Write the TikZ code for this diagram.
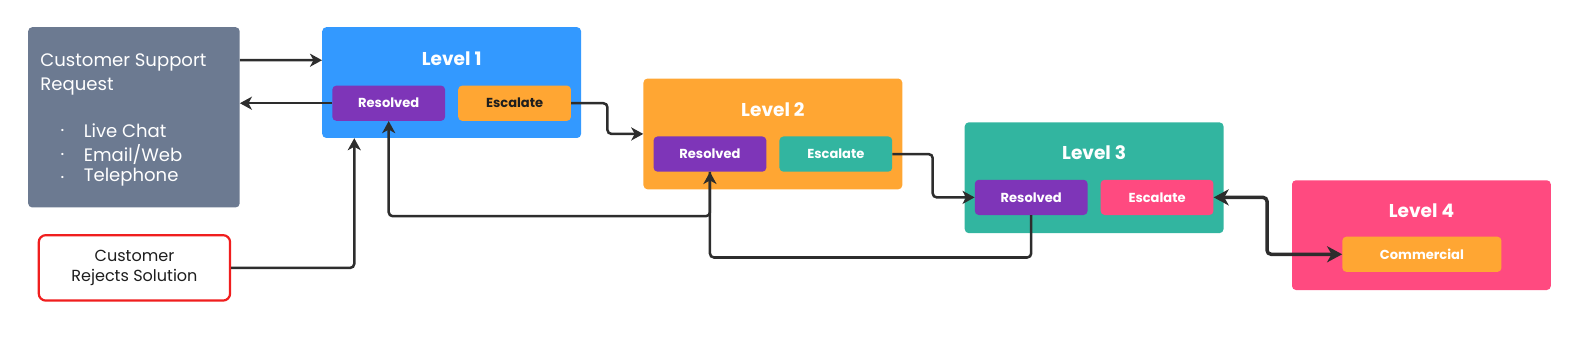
\documentclass[tikz,border=0pt]{standalone}
\usepackage{fontspec}
\setmainfont{Poppins}
\usetikzlibrary{arrows.meta,calc}
\definecolor{cgray}{RGB}{108,122,145}
\definecolor{cblue}{RGB}{51,153,255}
\definecolor{corange}{RGB}{255,166,51}
\definecolor{cpurple}{RGB}{126,53,184}
\definecolor{cteal}{RGB}{50,181,160}
\definecolor{cpink}{RGB}{255,74,128}
\definecolor{cred}{RGB}{240,30,30}
\definecolor{cline}{RGB}{45,45,45}
\definecolor{cdark}{RGB}{30,30,30}
\tikzset{
  levelbox/.style={rectangle,rounded corners=4bp,minimum width=257bp,minimum height=110bp,inner sep=0pt},
  btn/.style={rectangle,rounded corners=4bp,minimum width=112bp,minimum height=35bp,inner sep=0pt,font=\fontsize{13}{15}\selectfont\bfseries,text=white},
  ttl/.style={font=\fontsize{18.5}{22}\selectfont\bfseries,text=white,inner sep=0pt},
  gtxt/.style={font=\fontsize{18}{23.5}\selectfont,text=white,inner sep=0pt,anchor=west,align=left},
  conn/.style={draw=cline,line width=2.5bp,rounded corners=4bp,-{Stealth[length=12bp,width=13bp,inset=3.5bp]}},
}
\begin{document}
\begin{tikzpicture}[x=1bp,y=-1bp]
\useasboundingbox (0,0) rectangle (1568,342.6);
% source box
\node[rectangle,rounded corners=4bp,fill=cgray,minimum width=210bp,minimum height=179bp,inner sep=0pt] (gray) at (133,116.5) {};
\node[gtxt] (gt) at (40,74) {Customer Support\\Request};
\node[gtxt,font=\fontsize{9}{12}\selectfont] (b1) at (60,131) {•};
\node[gtxt,font=\fontsize{9}{12}\selectfont] (b2) at (60,154) {•};
\node[gtxt,font=\fontsize{9}{12}\selectfont] (b3) at (60,177) {•};
\node[gtxt] (i1) at (83,130) {Live Chat};
\node[gtxt] (i2) at (83,153) {Email/Web};
\node[gtxt] (i3) at (83,176) {Telephone};
% reject box
\node[rectangle,rounded corners=7bp,draw=cred,line width=2.2bp,fill=white,minimum width=190bp,minimum height=65bp,align=center,font=\fontsize{16}{19.5}\selectfont,text=cdark,inner sep=0pt] (red) at (133.5,266) {Customer\\Rejects Solution};
% Level 1
\node[levelbox,fill=cblue] (l1) at (448.5,82) {};
\node[ttl] (l1t) at (448.5,58) {Level 1};
\node[btn,fill=cpurple] (l1res) at (386,102.5) {Resolved};
\node[btn,fill=corange,text=cdark] (l1esc) at (511,102.5) {Escalate};
% Level 2
\node[levelbox,fill=corange] (l2) at (767.5,133) {};
\node[ttl] (l2t) at (767.5,108.5) {Level 2};
\node[btn,fill=cpurple] (l2res) at (705,153) {Resolved};
\node[btn,fill=cteal] (l2esc) at (830,153) {Escalate};
% Level 3
\node[levelbox,fill=cteal] (l3) at (1086.5,176.5) {};
\node[ttl] (l3t) at (1086.5,152) {Level 3};
\node[btn,fill=cpurple] (l3res) at (1024,196) {Resolved};
\node[btn,fill=cpink] (l3esc) at (1149,196) {Escalate};
% Level 4
\node[levelbox,fill=cpink,minimum height=109bp] (l4) at (1411.5,233.5) {};
\node[ttl] (l4t) at (1411.5,209.5) {Level 4};
\node[btn,fill=corange,minimum width=158bp] (com) at (1412,252.5) {Commercial};
% connectors
\draw[conn] ($(gray.north east)+(0,33)$) -- ($(l1.north west)+(0,33)$);
\draw[conn] (l1res.west) -- (l1res.west -| gray.east);
\draw[conn] (l1esc.east) -- ++(36,0) |- (l2.west);
\draw[conn] (l2esc.east) -- ++(40,0) |- (l3res.west);
\draw[conn,line width=3.5bp,{Stealth[length=15bp,width=16bp,inset=4.5bp]}-{Stealth[length=15bp,width=16bp,inset=4.5bp]}] (l3esc.east) -- ++(53,0) |- (com.west);
\draw[conn] (red.east) -| ($(l1.south west)+(32,0)$);
\draw[conn] (l2res.south) -- ++(0,44) -| (l1res.south);
\draw[conn] (l3res.south) -- ++(0,42) -| (l2res.south);
\end{tikzpicture}
\end{document}
